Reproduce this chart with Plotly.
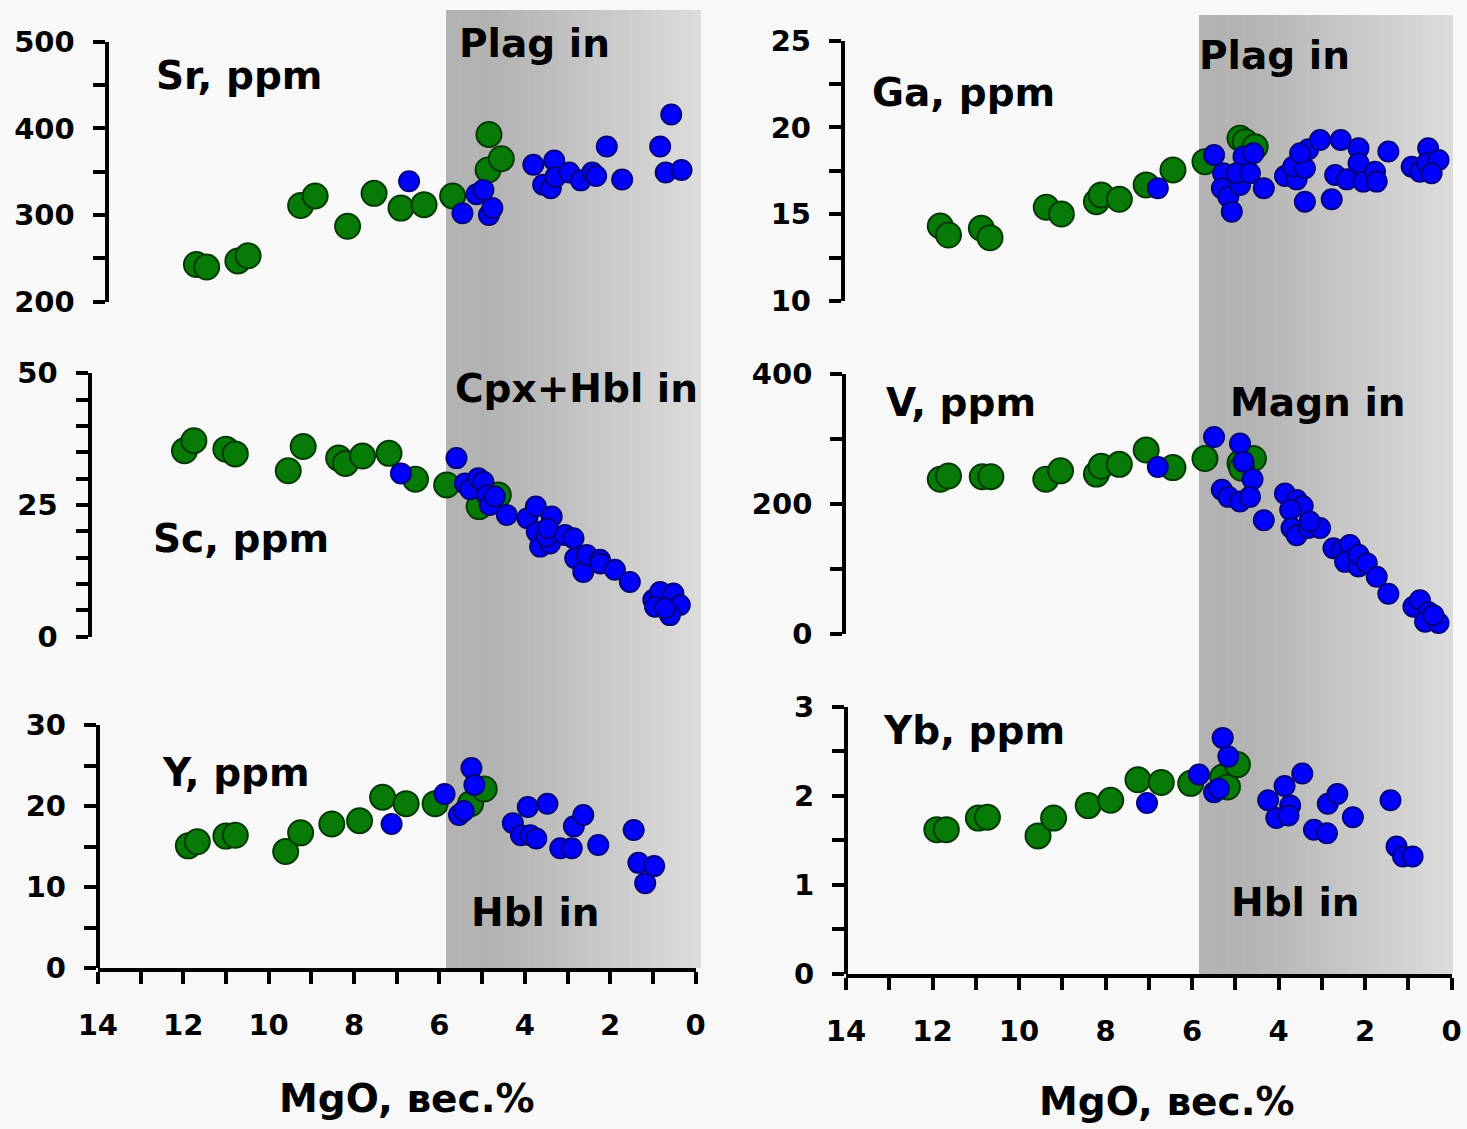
import plotly.graph_objects as go

W, H = 1467, 1129

# ---------------- data: trace elements vs MgO (wt.%) ----------------
# green = early (high-MgO) group, blue = evolved group

SR_GREEN_MGO = [11.69, 11.45, 10.72, 10.48, 9.25, 8.91, 8.15, 7.53, 6.90, 6.36, 5.69, 4.84, 4.86, 4.55]
SR_GREEN = [243, 240, 247, 253, 311, 322, 287, 325, 308, 312, 322, 393, 352, 365]
SR_BLUE_MGO = [6.71, 5.46, 5.13, 4.97, 4.84, 4.76, 3.80, 3.57, 3.39, 3.31, 3.28, 2.96, 2.69, 2.42,
               2.33, 2.08, 1.72, 0.83, 0.57, 0.70, 0.33]
SR_BLUE = [339, 302, 324, 329, 300, 308, 358, 335, 331, 363, 344, 349, 340, 349,
           345, 379, 341, 379, 416, 349, 352]

GA_GREEN_MGO = [11.82, 11.63, 10.87, 10.67, 9.37, 9.02, 8.21, 8.10, 7.68, 7.06, 6.44, 5.70, 4.89, 4.77, 4.54]
GA_GREEN = [14.32, 13.80, 14.19, 13.65, 15.40, 15.01, 15.72, 16.11, 15.86, 16.69, 17.55, 18.03, 19.38, 19.18, 18.89]
GA_BLUE_MGO = [6.79, 5.49, 5.28, 5.31, 5.16, 5.08, 4.89, 4.81, 4.97, 4.66, 4.58, 4.34, 3.85, 3.58,
               3.66, 3.39, 3.31, 3.04, 3.39, 2.77, 2.56, 2.69, 2.42, 2.15, 2.15, 2.04, 1.77, 1.73,
               1.46, 0.92, 0.73, 0.54, 0.57, 0.30, 0.46, 3.50]
GA_BLUE = [16.50, 18.41, 17.36, 16.50, 16.01, 15.15, 16.69, 18.32, 17.36, 17.36, 18.51, 16.50, 17.20, 17.01,
           17.74, 17.65, 18.74, 19.28, 15.72, 15.86, 19.28, 17.26, 17.01, 18.80, 17.94, 16.88, 17.45, 16.88,
           18.61, 17.74, 17.45, 18.80, 17.94, 18.13, 17.36, 18.51]

SC_GREEN_MGO = [11.97, 11.75, 11.00, 10.78, 9.54, 9.19, 8.36, 8.20, 7.80, 7.18, 6.56, 5.83, 5.07, 4.62]
SC_GREEN = [35.3, 37.2, 35.6, 34.7, 31.5, 36.1, 33.9, 32.9, 34.3, 34.8, 29.9, 28.8, 24.7, 26.9]
SC_BLUE_MGO = [6.90, 5.60, 5.40, 5.28, 5.09, 4.97, 4.89, 4.82, 4.70, 4.42, 3.94, 3.74, 3.37, 3.72,
               3.64, 3.41, 3.49, 3.46, 3.06, 2.86, 2.82, 2.63, 2.55, 2.24, 2.23, 1.89, 1.54, 0.99,
               0.83, 0.52, 0.37, 0.95, 0.60, 0.72]
SC_BLUE = [31.0, 33.9, 29.1, 28.0, 30.1, 29.4, 26.9, 25.0, 26.6, 23.1, 22.5, 24.7, 22.8, 19.9,
           17.1, 17.7, 19.0, 20.6, 19.3, 18.7, 14.9, 12.3, 15.5, 14.6, 13.9, 12.7, 10.4, 7.0,
           8.5, 8.2, 6.0, 5.7, 4.1, 5.4]

V_GREEN_MGO = [11.82, 11.63, 10.85, 10.65, 9.38, 9.04, 8.21, 8.10, 7.68, 7.06, 6.44, 5.70, 4.89, 4.58, 4.85]
V_GREEN = [238, 243, 242, 242, 238, 251, 246, 258, 261, 283, 256, 270, 263, 270, 255]
V_BLUE_MGO = [6.79, 5.49, 4.89, 4.81, 4.60, 5.31, 5.16, 4.89, 4.66, 4.34, 3.85, 3.58, 3.44, 3.73,
              3.70, 3.58, 3.31, 3.04, 3.28, 2.73, 2.54, 2.35, 2.46, 2.15, 2.15, 1.96, 1.73, 1.46,
              0.88, 0.73, 0.54, 0.61, 0.30, 0.42]
V_BLUE = [257, 303, 293, 265, 238, 222, 211, 204, 211, 175, 216, 206, 197, 191,
          163, 152, 163, 163, 173, 132, 129, 137, 111, 104, 122, 109, 88, 62,
          42, 52, 34, 19, 17, 29]

Y_GREEN_MGO = [11.88, 11.67, 11.00, 10.78, 9.60, 9.25, 8.52, 7.87, 7.33, 6.78, 6.10, 5.27, 4.95]
Y_GREEN = [15.1, 15.6, 16.3, 16.4, 14.4, 16.7, 17.8, 18.2, 21.1, 20.3, 20.3, 20.3, 22.1]
Y_BLUE_MGO = [7.12, 5.88, 5.54, 5.43, 5.25, 5.18, 4.28, 4.09, 3.93, 3.87, 3.73, 3.47, 3.17, 2.90,
              2.85, 2.63, 2.28, 1.45, 1.34, 1.18, 0.97]
Y_BLUE = [17.8, 21.5, 18.9, 19.4, 24.7, 22.6, 17.9, 16.4, 19.9, 16.4, 16.0, 20.3, 14.8, 14.8,
          17.5, 18.9, 15.2, 17.05, 13.0, 10.5, 12.6]

YB_GREEN_MGO = [11.90, 11.68, 10.94, 10.73, 9.56, 9.20, 8.40, 7.88, 7.25, 6.71, 6.03, 5.29, 5.18, 4.95]
YB_GREEN = [1.62, 1.62, 1.75, 1.76, 1.55, 1.75, 1.89, 1.95, 2.18, 2.15, 2.14, 2.21, 2.10, 2.35]
YB_BLUE_MGO = [7.04, 5.84, 5.49, 5.38, 5.29, 5.16, 4.24, 4.05, 3.86, 3.73, 3.77, 3.45, 3.18, 2.88,
               2.86, 2.64, 2.28, 1.41, 1.27, 1.12, 0.90]
YB_BLUE = [1.92, 2.24, 2.04, 2.08, 2.65, 2.44, 1.95, 1.75, 2.11, 1.89, 1.78, 2.25, 1.62, 1.58,
           1.91, 2.02, 1.76, 1.95, 1.43, 1.32, 1.32]

X_TITLE = "MgO, вес.%"

# ---------------- styling ----------------
FONT = "DejaVu Sans"
GREEN_FILL, GREEN_EDGE = "#077a07", "#003a00"
BLUE_FILL, BLUE_EDGE = "#0000ff", "#000080"
BG = "#f8f8f8"


def fx(p):
    return p / W


def fy(p):
    return 1 - p / H


LEFT_X = (97.8, 695.6)
RIGHT_X = (846.0, 1451.5)

panels = [
    dict(gx=SR_GREEN_MGO, gy=SR_GREEN, bx=SR_BLUE_MGO, by=SR_BLUE, xpix=LEFT_X,
         ypix=(41.7, 301.7), axis_x=106.5, yrange=[200, 500], dtick=100, minor=50, xvis=False),
    dict(gx=GA_GREEN_MGO, gy=GA_GREEN, bx=GA_BLUE_MGO, by=GA_BLUE, xpix=RIGHT_X,
         ypix=(40.7, 301.0), axis_x=842.8, yrange=[10, 25], dtick=5, minor=2.5, xvis=False),
    dict(gx=SC_GREEN_MGO, gy=SC_GREEN, bx=SC_BLUE_MGO, by=SC_BLUE, xpix=LEFT_X,
         ypix=(373.3, 636.7), axis_x=89.5, yrange=[0, 50], dtick=25, minor=5, xvis=False),
    dict(gx=V_GREEN_MGO, gy=V_GREEN, bx=V_BLUE_MGO, by=V_BLUE, xpix=RIGHT_X,
         ypix=(374.0, 634.0), axis_x=844.2, yrange=[0, 400], dtick=200, minor=100, xvis=False),
    dict(gx=Y_GREEN_MGO, gy=Y_GREEN, bx=Y_BLUE_MGO, by=Y_BLUE, xpix=LEFT_X,
         ypix=(725.0, 968.3), axis_x=97.8, yrange=[0, 30], dtick=10, minor=5, xvis=True),
    dict(gx=YB_GREEN_MGO, gy=YB_GREEN, bx=YB_BLUE_MGO, by=YB_BLUE, xpix=RIGHT_X,
         ypix=(706.7, 974.0), axis_x=846.1, yrange=[0, 3], dtick=1, minor=0.5, xvis=True),
]

fig = go.Figure()
layout = dict(
    width=W, height=H,
    margin=dict(l=0, r=0, t=0, b=0, pad=0, autoexpand=False),
    paper_bgcolor=BG, plot_bgcolor="rgba(0,0,0,0)",
    showlegend=False,
)

tick_font = dict(family=FONT, size=29, color="black", weight="bold")

for i, p in enumerate(panels, start=1):
    xs = "" if i == 1 else str(i)
    xref, yref = "x" + xs, "y" + xs
    fig.add_trace(go.Scatter(
        x=p["gx"], y=p["gy"], mode="markers", xaxis=xref, yaxis=yref, cliponaxis=False,
        marker=dict(size=25, color=GREEN_FILL, line=dict(color=GREEN_EDGE, width=2)),
    ))
    fig.add_trace(go.Scatter(
        x=p["bx"], y=p["by"], mode="markers", xaxis=xref, yaxis=yref, cliponaxis=False,
        marker=dict(size=20, color=BLUE_FILL, line=dict(color=BLUE_EDGE, width=2)),
    ))

    xa = dict(
        domain=[fx(p["xpix"][0]), fx(p["xpix"][1])], range=[14, 0], anchor=yref,
        showgrid=False, zeroline=False, fixedrange=True, automargin=False,
    )
    if p["xvis"]:
        xa.update(
            showline=True, linecolor="black", linewidth=4,
            ticks="outside", ticklen=12, tickwidth=4, tickcolor="black",
            tick0=0, dtick=2, tickfont=tick_font, ticklabelstandoff=16,
            minor=dict(dtick=1, ticks="outside", ticklen=12, tickwidth=4, tickcolor="black", showgrid=False),
        )
    else:
        xa.update(visible=False)

    ya = dict(
        domain=[fy(p["ypix"][1]), fy(p["ypix"][0])], range=p["yrange"],
        anchor="free", position=fx(p["axis_x"]),
        showline=True, linecolor="black", linewidth=4,
        ticks="outside", ticklen=12, tickwidth=4, tickcolor="black",
        tick0=0, dtick=p["dtick"], tickfont=tick_font, ticklabelstandoff=12,
        minor=dict(dtick=p["minor"], ticks="outside", ticklen=12, tickwidth=4, tickcolor="black", showgrid=False),
        showgrid=False, zeroline=False, fixedrange=True, automargin=False,
    )
    layout["xaxis" + xs] = xa
    layout["yaxis" + xs] = ya

# shaded field of plagioclase / hornblende / magnetite crystallisation (grey gradient)
shapes = []
N = 90
for (x0, x1, y0, y1) in [(446, 701, 10, 968), (1199, 1453, 15, 974)]:
    step = (x1 - x0) / N
    for k in range(N):
        t = (k + 0.5) / N
        v = 179 if t < 0.2 else 179 + (220 - 179) * (t - 0.2) / 0.8
        v = int(round(v))
        a = x0 + k * step
        b = min(x1, a + step + 0.6)
        shapes.append(dict(
            type="rect", xref="paper", yref="paper", layer="below",
            x0=fx(a), x1=fx(b), y0=fy(y1), y1=fy(y0),
            line=dict(width=0), fillcolor=f"rgb({v},{v},{v})",
        ))
layout["shapes"] = shapes

label_font = dict(family=FONT, size=39, color="black", weight="bold")
labels = [
    ("Sr, ppm", 239, 76), ("Plag in", 534, 43),
    ("Ga, ppm", 963, 92), ("Plag in", 1274, 55),
    ("Cpx+Hbl in", 576, 388), ("Sc, ppm", 241, 538),
    ("V, ppm", 961, 402), ("Magn in", 1318, 402),
    ("Y, ppm", 236, 772), ("Hbl in", 535, 912),
    ("Yb, ppm", 974, 730), ("Hbl in", 1295, 902),
    (X_TITLE, 407, 1098), (X_TITLE, 1167, 1101),
]
layout["annotations"] = [
    dict(text=t, x=fx(x), y=fy(y), xref="paper", yref="paper", xanchor="center", yanchor="middle",
         showarrow=False, font=label_font)
    for (t, x, y) in labels
]

fig.update_layout(**layout)
fig.write_html("out.html")
